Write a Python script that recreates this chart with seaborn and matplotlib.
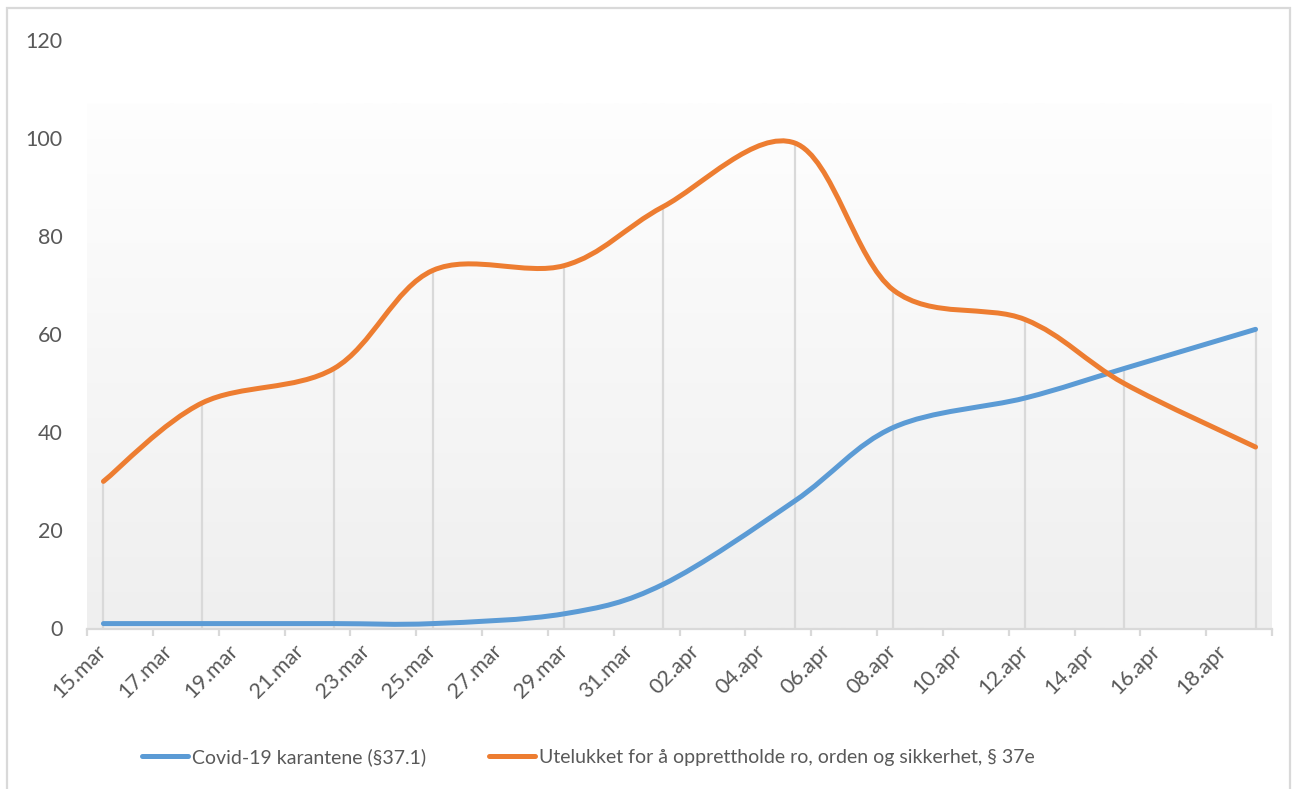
import numpy as np
import pandas as pd
import matplotlib
matplotlib.use("Agg")
import matplotlib.pyplot as plt
from matplotlib.path import Path
from matplotlib.patches import PathPatch, Rectangle
from matplotlib.lines import Line2D
import seaborn as sns

# data
dates = ["15.mar", "18.mar", "22.mar", "25.mar", "29.mar", "01.apr",
         "05.apr", "08.apr", "12.apr", "15.apr", "19.apr"]
karantene = [1, 1, 1, 1, 3, 9, 26, 41, 47, 53, 61]
utelukket = [30, 46, 53, 73, 74, 86, 99, 69, 63, 50, 37]
series_names = ["Covid-19 karantene (§37.1)",
                "Utelukket for å opprettholde ro, orden og sikkerhet, § 37e"]
series_colors = ["#5b9bd5", "#ed7d31"]
y_ticks = [0, 20, 40, 60, 80, 100, 120]

# category axis: one slot per day
months = {3: "mar", 4: "apr"}
all_days = [f"{d.day:02d}.{months[d.month]}"
            for d in pd.date_range("2020-03-15", "2020-04-19")]
xpos = np.array([all_days.index(d) for d in dates], dtype=float)


def smooth_path(x, y):
    # Catmull-Rom style bezier, like a spreadsheet "smoothed line"
    pts = np.column_stack([x, y]).astype(float)
    n = len(pts)
    verts = [pts[0]]
    codes = [Path.MOVETO]
    for i in range(n - 1):
        p0 = pts[i - 1] if i > 0 else pts[i]
        p1 = pts[i]
        p2 = pts[i + 1]
        p3 = pts[i + 2] if i + 2 < n else pts[i + 1]
        verts += [p1 + (p2 - p0) / 6, p2 - (p3 - p1) / 6, p2]
        codes += [Path.CURVE4] * 3
    return Path(verts, codes)


sns.set_theme(style="white")
plt.rcParams["font.family"] = ["Lato", "DejaVu Sans"]
txt_col = "#595959"

fig = plt.figure(figsize=(12.93, 7.89), dpi=100)
ax = fig.add_axes([87 / 1293, 1 - 628.5 / 789, (1272 - 87) / 1293, (628.5 - 40) / 789])

ax.set_xlim(-0.5, len(all_days) - 0.5)
ax.set_ylim(0, 120)

# plot-area gradient
grad = np.linspace(0, 1, 256).reshape(-1, 1)
cmap = matplotlib.colors.LinearSegmentedColormap.from_list("bg", ["#efefef", "#fefefe"])
ax.imshow(grad, cmap=cmap, aspect="auto", origin="lower",
          extent=(-0.5, len(all_days) - 0.5, 0, 107), zorder=0)

# drop lines
tops = np.maximum(karantene, utelukket)
ax.vlines(xpos, 0, tops, color="#d9d9d9", lw=1.6, zorder=1)

for vals, col in zip([karantene, utelukket], series_colors):
    ax.add_patch(PathPatch(smooth_path(xpos, vals), fill=False, edgecolor=col,
                           lw=3.6, capstyle="round", zorder=3))

for s in ["top", "right", "left"]:
    ax.spines[s].set_visible(False)
ax.spines["bottom"].set_color("#d9d9d9")
ax.spines["bottom"].set_linewidth(1.6)

ax.set_yticks(y_ticks)
ax.set_yticklabels([str(v) for v in y_ticks], fontsize=15.5, color=txt_col)
ax.tick_params(axis="y", length=0, pad=17.5)

ax.set_xticks(range(0, len(all_days), 2))
ax.set_xticklabels(all_days[::2], rotation=45, ha="right", va="center",
                   rotation_mode="anchor", fontsize=15.5, color=txt_col)
ax.set_xticks(np.arange(-0.5, len(all_days), 2), minor=True)
ax.tick_params(axis="x", which="major", length=0, pad=14)
ax.tick_params(axis="x", which="minor", length=5, width=1.6, color="#d9d9d9",
               bottom=True)

handles = [Line2D([], [], color=c, lw=3.6, solid_capstyle="round") for c in series_colors]
leg = fig.legend(handles, series_names, loc="center", bbox_to_anchor=(0.455, 1 - 757 / 789),
                 ncol=2, frameon=False, fontsize=14, handlelength=2.4, handletextpad=0.2,
                 columnspacing=3.2)
for t in leg.get_texts():
    t.set_color(txt_col)

fig.add_artist(Rectangle((7 / 1293, -0.01), (1290 - 7) / 1293, 1.01 - 8 / 789,
                         transform=fig.transFigure, fill=False,
                         edgecolor="#d9d9d9", lw=1.6))

fig.savefig("out.png", dpi=100)
